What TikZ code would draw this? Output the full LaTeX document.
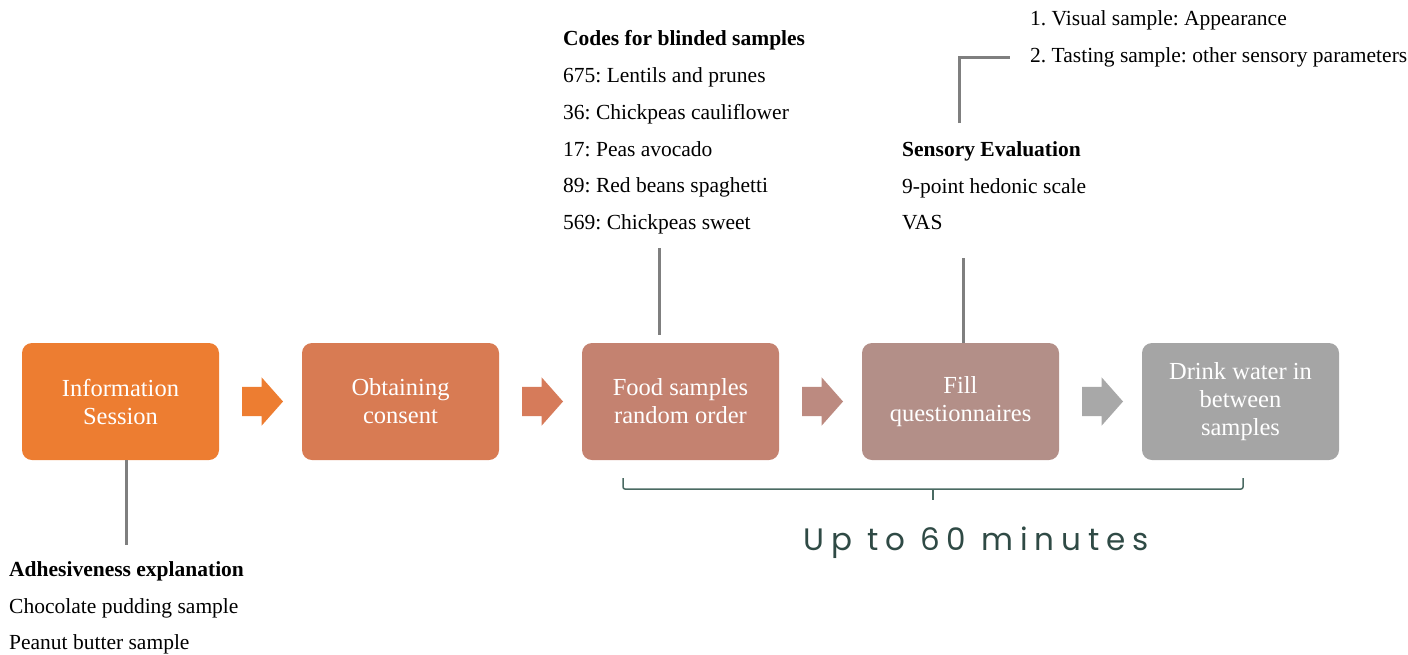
\documentclass[tikz,border=0pt]{standalone}
\usepackage{fontspec}
\setmainfont{Liberation Serif}
\newfontfamily\spacedfont[LetterSpace=22]{Poppins}
\usetikzlibrary{shapes.arrows}
\frenchspacing

\definecolor{boxA}{HTML}{ED7D31}
\definecolor{boxB}{HTML}{D87B53}
\definecolor{boxC}{HTML}{C48270}
\definecolor{boxD}{HTML}{B38F88}
\definecolor{boxE}{HTML}{A5A5A5}
\definecolor{arrA}{HTML}{ED7D31}
\definecolor{arrB}{HTML}{D67B5A}
\definecolor{arrC}{HTML}{BC8A80}
\definecolor{arrD}{HTML}{A8A8A8}
\definecolor{lineGrey}{HTML}{7F7F7F}
\definecolor{braceTeal}{HTML}{4A6A62}
\definecolor{textTeal}{HTML}{2F4A45}

\newcommand\notesize{\fontsize{21.5}{26}\selectfont}
\newcommand\boxsize{\fontsize{24.5}{28}\selectfont}

\begin{document}
\begin{tikzpicture}[x=1pt,y=-1pt,
	procbox/.style={rectangle, rounded corners=10pt, minimum width=197pt, minimum height=117pt,
		text=white, align=center, font=\boxsize, inner sep=0pt},
	blockarrow/.style={single arrow, minimum height=41pt, inner xsep=0pt, inner ysep=14.5pt,
		single arrow head extend=9.5pt, single arrow tip angle=97},
	note/.style={anchor=base west, inner sep=0pt, font=\notesize},
	linkline/.style={draw=lineGrey, line width=3pt}]

	\useasboundingbox (0,0) rectangle (1408,654);

	\node[procbox, fill=boxA] (info)	at (120.5,401.5)	{Information\\Session};
	\node[procbox, fill=boxB] (consent)	at (400.5,401.5)	{Obtaining\\consent};
	\node[procbox, fill=boxC] (food)	at (680.5,401.5)	{Food samples\\random order};
	\node[procbox, fill=boxD] (fill)	at (960.5,401.5)	{Fill\\questionnaires};
	\node[procbox, fill=boxE] (water)	at (1240.5,401.5)	{Drink water in\\between\\samples};

	\node[blockarrow, fill=arrA] (arr1) at (256,401.5)	{};
	\node[blockarrow, fill=arrB] (arr2) at (536,401.5)	{};
	\node[blockarrow, fill=arrC] (arr3) at (816,401.5)	{};
	\node[blockarrow, fill=arrD] (arr4) at (1096,401.5)	{};

	\node[note, font=\notesize\bfseries] (adh) at (9,576) {Adhesiveness explanation};
	\node[note] (choc) at (9,613)	{Chocolate pudding sample};
	\node[note] (pean) at (9,649)	{Peanut butter sample};

	\node[note, font=\notesize\bfseries] (codes) at (563,45) {Codes for blinded samples};
	\node[note] (c675) at (563,82)	{675: Lentils and prunes};
	\node[note] (c36) at (563,119)	{36: Chickpeas cauliflower};
	\node[note] (c17) at (563,156)	{17: Peas avocado};
	\node[note] (c89) at (563,192)	{89: Red beans spaghetti};
	\node[note] (c569) at (563,229)	{569: Chickpeas sweet};

	\node[note, font=\notesize\bfseries] (sens) at (902,156) {Sensory Evaluation};
	\node[note] (hedo) at (902,193)	{9-point hedonic scale};
	\node[note] (vas) at (902,229)	{VAS};

	\node[note] (visual) at (1030,25)	{1. Visual sample: Appearance};
	\node[note] (tasting) at (1030,62)	{2. Tasting sample: other sensory parameters};

	\coordinate (adhtop) at (126,545);
	\coordinate (codesbot) at (659,248);
	\coordinate (foodtop) at (659,335);
	\coordinate (sensbot) at (963,258);
	\coordinate (bendlow) at (959,123);
	\coordinate (bendend) at (1010,57);

	\path [linkline] (info.south -| adhtop) edge (adhtop);
	\path [linkline] (codesbot) edge (foodtop);
	\path [linkline] (sensbot) edge (fill.north -| sensbot);
	\draw [linkline] (bendlow) |- (bendend);

	\coordinate (braceL) at (623,478);
	\coordinate (braceR) at (1243,478);
	\coordinate (braceM) at (933,489);
	\draw [braceTeal, line width=1.5pt, rounded corners=2pt] (braceL) |- (braceM) -| (braceR);
	\draw [braceTeal, line width=1.5pt] (braceM) -- ++(0,11);

	\node[text=textTeal, font=\spacedfont\fontsize{31}{36}\selectfont, inner sep=0pt] (upto) at (976,543) {Up to 60 minutes};
\end{tikzpicture}
\end{document}
